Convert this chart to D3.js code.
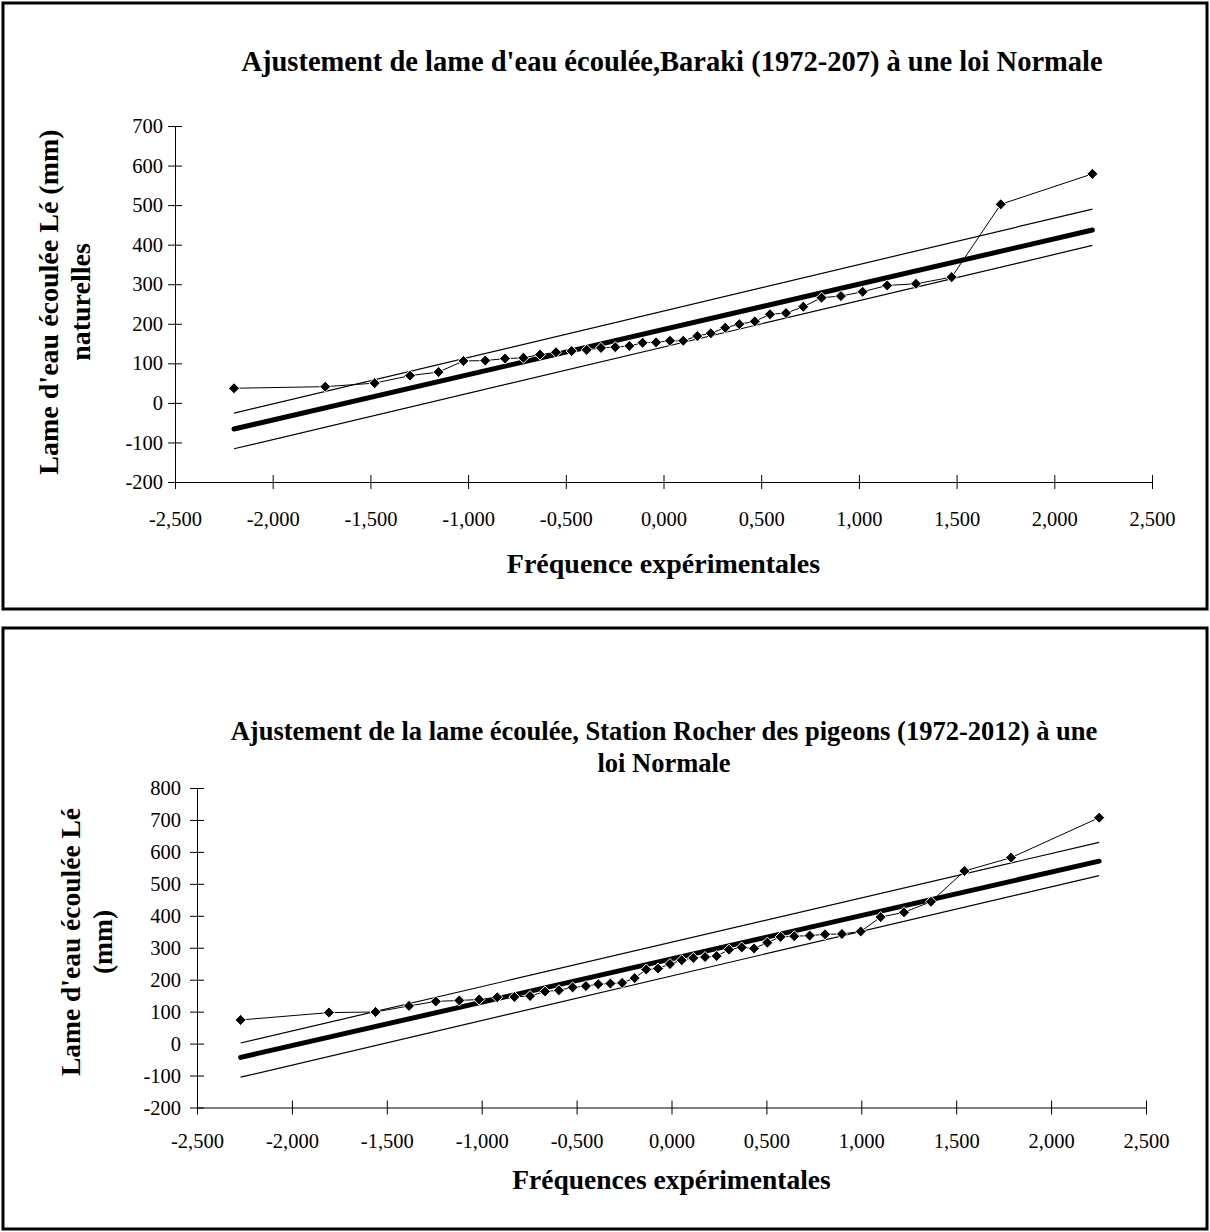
<!DOCTYPE html>
<html>
<head>
<meta charset="utf-8">
<script src="https://cdn.jsdelivr.net/npm/d3@7"></script>
<style>
  body { margin: 0; background: #fff; }
  svg text { font-family: "Liberation Serif", "Times New Roman", serif; fill: #000; }
  .tick text { font-size: 20.5px; }
  .title, .axisTitle { font-weight: bold; }
</style>
</head>
<body>
<div id="charts"></div>
<script>
// Baraki (1972-2007) : fréquences et lames observées
var barakiFreq = [-2.198, -1.731, -1.478, -1.297, -1.151, -1.024, -0.912, -0.811, -0.717, -0.632,
  -0.550, -0.470, -0.393, -0.320, -0.247, -0.175, -0.107, -0.038,
  0.033, 0.101, 0.173, 0.242, 0.316, 0.388, 0.467, 0.545, 0.627, 0.715,
  0.809, 0.908, 1.019, 1.145, 1.292, 1.475, 1.726, 2.195];
var barakiLame = [37, 41, 50, 69, 78, 106, 107, 112, 114, 122,
  128, 131, 134, 139, 141, 144, 152, 153,
  157, 157, 169, 176, 190, 199, 206, 224, 227, 243,
  266, 270, 281, 297, 301, 318, 502, 579];
// droite de Henry + bornes de confiance (extrémités)
var barakiFitFreq = [-2.198, 2.195];
var barakiFit = [-66, 437];
var barakiUpper = [-26, 490];
var barakiLower = [-116, 398];

// Rocher des pigeons (1972-2012)
var rocherFreq = [-2.270, -1.805, -1.559, -1.383, -1.242, -1.118, -1.013, -0.918, -0.828, -0.745,
  -0.666, -0.593, -0.521, -0.451, -0.386, -0.322, -0.260, -0.194, -0.133, -0.071,
  -0.008, 0.054, 0.115, 0.177, 0.238, 0.303, 0.370, 0.435, 0.505, 0.575,
  0.647, 0.728, 0.809, 0.898, 0.997, 1.102, 1.225, 1.367, 1.543, 1.789, 2.253];
var rocherLame = [74, 97, 99, 118, 132, 135, 138, 145, 146, 149,
  163, 167, 176, 180, 186, 188, 190, 205, 232, 235,
  249, 261, 268, 271, 274, 294, 301, 298, 316, 334,
  336, 338, 342, 343, 351, 396, 411, 444, 540, 582, 707];
var rocherFitFreq = [-2.270, 2.253];
var rocherFit = [-43, 571];
var rocherUpper = [2, 630];
var rocherLower = [-105, 526];

var xTicks = [-2.5, -2, -1.5, -1, -0.5, 0, 0.5, 1, 1.5, 2, 2.5];
var barakiYTicks = [-200, -100, 0, 100, 200, 300, 400, 500, 600, 700];
var rocherYTicks = [-200, -100, 0, 100, 200, 300, 400, 500, 600, 700, 800];

var svg = d3.select("#charts").append("svg")
  .attr("width", 1210)
  .attr("height", 1232);

var fmtX = d => d3.format(".3f")(d).replace(".", ",");

function drawChart(opt) {
  // cadre
  svg.append("rect")
    .attr("x", opt.frame[0]).attr("y", opt.frame[1])
    .attr("width", opt.frame[2]).attr("height", opt.frame[3])
    .attr("fill", "none").attr("stroke", "#000").attr("stroke-width", 3);

  var x = d3.scaleLinear().domain([-2.5, 2.5]).range([opt.left, opt.right]);
  var y = d3.scaleLinear().domain(opt.yDomain).range([opt.bottom, opt.top]);

  // axes (graduations en croix)
  var xAxis = svg.append("g")
    .attr("transform", `translate(0, ${opt.bottom})`)
    .call(d3.axisBottom(x).tickValues(xTicks).tickFormat(fmtX).tickSize(7).tickSizeOuter(0).tickPadding(opt.xPad));
  xAxis.selectAll(".tick line").attr("y1", -7);

  var yAxis = svg.append("g")
    .attr("transform", `translate(${opt.left}, 0)`)
    .call(d3.axisLeft(y).tickValues(opt.yTicks).tickFormat(d3.format("d")).tickSize(7).tickSizeOuter(0).tickPadding(opt.yPad));
  yAxis.selectAll(".tick line").attr("x1", 7);
  svg.selectAll(".domain").attr("stroke", "#000");
  svg.selectAll(".tick text").text(function() { return this.textContent.replace("\u2212", "-"); });

  var line = d3.line().x(d => x(d[0])).y(d => y(d[1]));

  // bornes de confiance
  [opt.upper, opt.lower].forEach(function(b) {
    svg.append("path")
      .datum(d3.zip(opt.fitFreq, b))
      .attr("d", line)
      .attr("fill", "none").attr("stroke", "#000").attr("stroke-width", 1.2);
  });

  // droite d'ajustement
  svg.append("path")
    .datum(d3.zip(opt.fitFreq, opt.fit))
    .attr("d", line)
    .attr("fill", "none").attr("stroke", "#000").attr("stroke-width", 5)
    .attr("stroke-linecap", "round");

  // valeurs observées
  var pts = d3.zip(opt.freq, opt.lame);
  svg.append("path")
    .datum(pts)
    .attr("d", line)
    .attr("fill", "none").attr("stroke", "#000").attr("stroke-width", 1);

  svg.append("g").selectAll("path")
    .data(pts)
    .enter()
    .append("path")
    .attr("d", d3.symbol(d3.symbolDiamond2, 78))
    .attr("transform", d => `translate(${x(d[0])}, ${y(d[1])})`)
    .attr("fill", "#000")
    .attr("stroke", "#fff")
    .attr("stroke-width", 1);

  // titres
  var t = svg.append("text")
    .attr("class", "title")
    .style("font-size", opt.titleSize + "px")
    .attr("x", opt.titleX).attr("y", opt.titleY)
    .attr("text-anchor", "middle");
  opt.title.forEach(function(s, i) {
    t.append("tspan").attr("x", opt.titleX).attr("dy", i ? 32 : 0).text(s);
  });

  svg.append("text")
    .attr("class", "axisTitle")
    .style("font-size", opt.axisSize + "px")
    .attr("x", (opt.left + opt.right) / 2)
    .attr("y", opt.xTitleY)
    .attr("text-anchor", "middle")
    .text(opt.xTitle);

  var yt = svg.append("text")
    .attr("class", "axisTitle")
    .style("font-size", opt.axisSize + "px")
    .attr("transform", `translate(${opt.yTitleX}, ${opt.yTitleY}) rotate(-90)`)
    .attr("text-anchor", "middle");
  opt.yTitle.forEach(function(s, i) {
    yt.append("tspan").attr("x", 0).attr("dy", i ? 32 : 0).text(s);
  });
}

drawChart({
  frame: [3, 3, 1204, 606],
  left: 175, right: 1152, top: 126, bottom: 482,
  yDomain: [-200, 700], yTicks: barakiYTicks, xPad: 22, yPad: 5,
  freq: barakiFreq, lame: barakiLame,
  fitFreq: barakiFitFreq, fit: barakiFit, upper: barakiUpper, lower: barakiLower,
  title: ["Ajustement de lame d'eau écoulée,Baraki (1972-207) à une loi Normale"],
  titleSize: 28.5, titleX: 672, titleY: 71,
  axisSize: 28, xTitle: "Fréquence expérimentales", xTitleY: 573,
  yTitle: ["Lame d'eau écoulée Lé (mm)", "naturelles"],
  yTitleX: 58, yTitleY: 302
});

drawChart({
  frame: [3, 628, 1204, 601],
  left: 197, right: 1146, top: 788, bottom: 1107.5,
  yDomain: [-200, 800], yTicks: rocherYTicks, xPad: 19, yPad: 9,
  freq: rocherFreq, lame: rocherLame,
  fitFreq: rocherFitFreq, fit: rocherFit, upper: rocherUpper, lower: rocherLower,
  title: ["Ajustement de la lame écoulée, Station Rocher des pigeons (1972-2012) à une", "loi Normale"],
  titleSize: 26.5, titleX: 664, titleY: 740,
  axisSize: 27.5, xTitle: "Fréquences expérimentales", xTitleY: 1189,
  yTitle: ["Lame d'eau écoulée Lé", "(mm)"],
  yTitleX: 80, yTitleY: 942
});
</script>
</body>
</html>
